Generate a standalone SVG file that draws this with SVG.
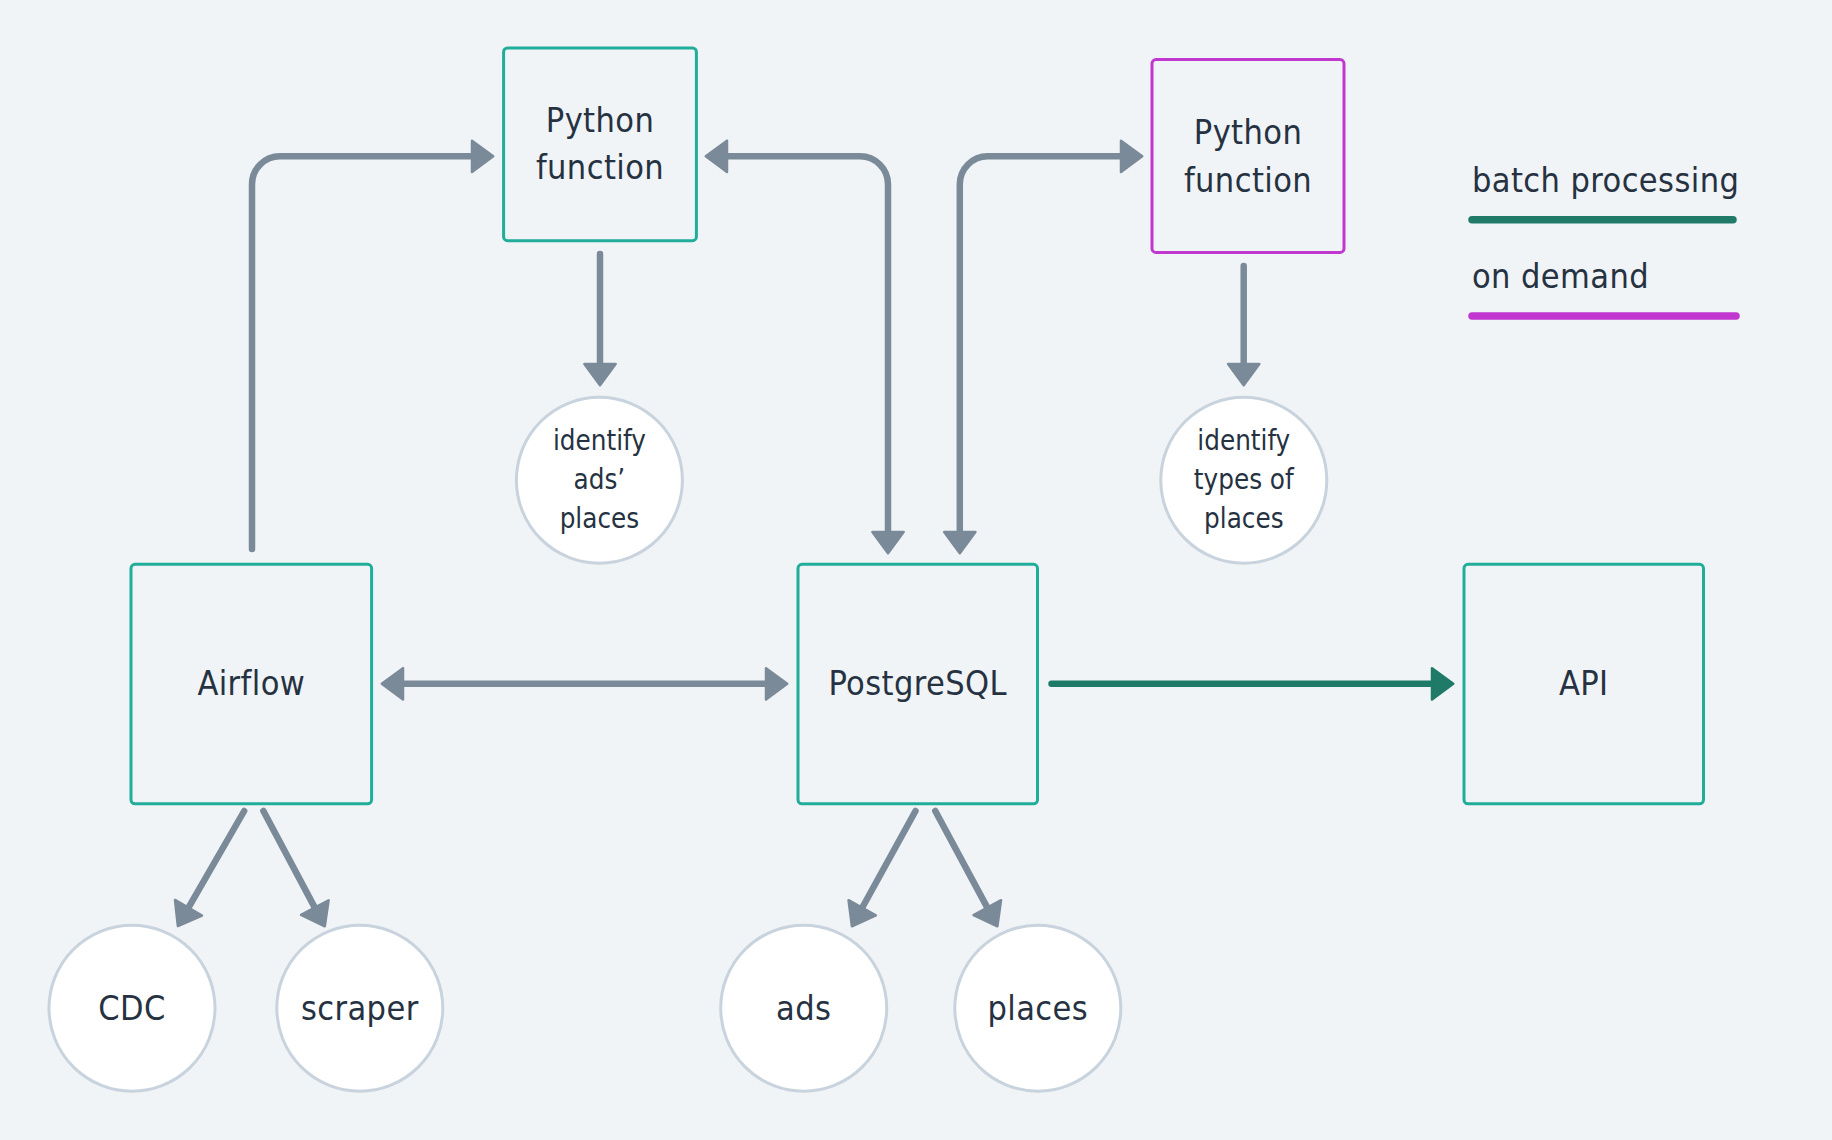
<svg xmlns="http://www.w3.org/2000/svg" width="1832" height="1140" viewBox="0 0 1832 1140">
<style>
  text { font-family: "DejaVu Sans Condensed", "DejaVu Sans", "Liberation Sans", sans-serif; fill: #263241; text-anchor: middle; }
  .lbl { font-size: 34px; letter-spacing: 0.4px; }
  .sm { font-size: 27.5px; }
  .box { fill: none; stroke: #20ad9a; stroke-width: 3; }
  .box2 { fill: none; stroke: #c038cf; stroke-width: 3; }
  .circ { fill: #ffffff; stroke: #c8d3dd; stroke-width: 3; }
  .con { fill: none; stroke: #7b8a99; stroke-width: 6.5; stroke-linecap: round; stroke-linejoin: round; }
  .gcon { fill: none; stroke: #1f7a68; stroke-width: 6.5; stroke-linecap: round; }
  .leg { text-anchor: start; font-size: 34px; letter-spacing: 0.4px; }
</style>
<defs>
  <marker id="ah" markerUnits="userSpaceOnUse" markerWidth="40" markerHeight="40" refX="0" refY="0" viewBox="-4 -16 26 32" orient="auto-start-reverse" overflow="visible">
    <path d="M0,-12.5 L17,0 L0,12.5 Z" fill="#7b8a99" stroke="#7b8a99" stroke-width="2" stroke-linejoin="round"/>
  </marker>
  <marker id="ahg" markerUnits="userSpaceOnUse" markerWidth="40" markerHeight="40" refX="0" refY="0" viewBox="-4 -16 26 32" orient="auto" overflow="visible">
    <path d="M0,-12.5 L17,0 L0,12.5 Z" fill="#1f7a68" stroke="#1f7a68" stroke-width="2" stroke-linejoin="round"/>
  </marker>
</defs>
<rect width="1832" height="1140" fill="#f0f4f7"/>

<g id="connectors">
  <path class="con" d="M252,549 V184.3 A28,28 0 0 1 280,156.3 H472" marker-end="url(#ah)"/>
  <path class="con" d="M727,156.3 H860 A28,28 0 0 1 888,184.3 V532" marker-start="url(#ah)" marker-end="url(#ah)"/>
  <path class="con" d="M959.8,532 V184.3 A28,28 0 0 1 987.8,156.3 H1121" marker-start="url(#ah)" marker-end="url(#ah)"/>
  <path class="con" d="M600,254 V364" marker-end="url(#ah)"/>
  <path class="con" d="M1243.7,266 V364" marker-end="url(#ah)"/>
  <path class="con" d="M403,683.8 H766" marker-start="url(#ah)" marker-end="url(#ah)"/>
  <path class="gcon" d="M1051.5,683.8 H1432" marker-end="url(#ahg)"/>
  <path class="con" d="M244.2,811 L188.5,907.7" marker-end="url(#ah)"/>
  <path class="con" d="M263.4,811 L314.8,907.6" marker-end="url(#ah)"/>
  <path class="con" d="M915.5,811 L862.2,907.7" marker-end="url(#ah)"/>
  <path class="con" d="M935.3,811 L987.3,907.6" marker-end="url(#ah)"/>
</g>

<g id="python1">
  <rect class="box" x="503.6" y="47.9" width="192.8" height="192.8" rx="4"/>
  <text class="lbl" x="600" y="131.6">Python</text>
  <text class="lbl" x="600" y="179.2">function</text>
</g>
<g id="python2">
  <rect class="box2" x="1152" y="59.6" width="192" height="192.8" rx="4"/>
  <text class="lbl" x="1248" y="143.6">Python</text>
  <text class="lbl" x="1248" y="191.6">function</text>
</g>
<g id="airflow">
  <rect class="box" x="131" y="564.3" width="240.6" height="239.5" rx="4"/>
  <text class="lbl" x="251.3" y="695.4">Airflow</text>
</g>
<g id="postgresql">
  <rect class="box" x="798" y="564.3" width="239.5" height="239.5" rx="4"/>
  <text class="lbl" x="917.7" y="695.4">PostgreSQL</text>
</g>
<g id="api">
  <rect class="box" x="1464" y="564.3" width="239.5" height="239.5" rx="4"/>
  <text class="lbl" x="1583.7" y="695.4">API</text>
</g>
<g id="identify-ads">
  <circle class="circ" cx="599.4" cy="480.2" r="83"/>
  <text class="sm" x="599.4" y="449.6">identify</text>
  <text class="sm" x="599.4" y="489">ads’</text>
  <text class="sm" x="599.4" y="528">places</text>
</g>
<g id="identify-types">
  <circle class="circ" cx="1243.8" cy="480.2" r="83"/>
  <text class="sm" x="1243.8" y="449.6">identify</text>
  <text class="sm" x="1243.8" y="489">types of</text>
  <text class="sm" x="1243.8" y="528">places</text>
</g>
<g id="cdc">
  <circle class="circ" cx="132" cy="1008.2" r="83"/>
  <text class="lbl" x="132" y="1019.6">CDC</text>
</g>
<g id="scraper">
  <circle class="circ" cx="359.8" cy="1008.2" r="83"/>
  <text class="lbl" x="359.8" y="1019.6">scraper</text>
</g>
<g id="ads">
  <circle class="circ" cx="803.7" cy="1008.2" r="83"/>
  <text class="lbl" x="803.7" y="1019.6">ads</text>
</g>
<g id="places">
  <circle class="circ" cx="1037.8" cy="1008.2" r="83"/>
  <text class="lbl" x="1037.8" y="1019.6">places</text>
</g>
<g id="legend">
  <text class="leg" x="1472" y="191.6">batch processing</text>
  <line x1="1472" y1="219.8" x2="1733" y2="219.8" stroke="#1f7a68" stroke-width="7.5" stroke-linecap="round"/>
  <text class="leg" x="1472" y="288">on demand</text>
  <line x1="1472" y1="315.9" x2="1736" y2="315.9" stroke="#c038cf" stroke-width="7.5" stroke-linecap="round"/>
</g>
</svg>
